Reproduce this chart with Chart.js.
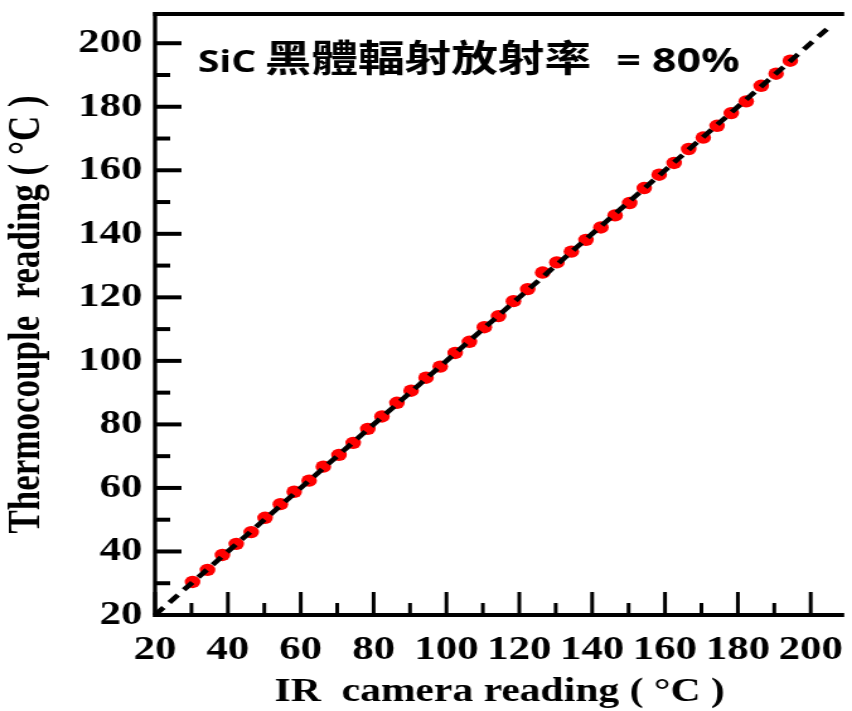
<!DOCTYPE html>
<html>
<head>
<meta charset="utf-8">
<script src="https://cdn.jsdelivr.net/npm/chart.js@4"></script>
<style>
  html, body { margin: 0; padding: 0; background: #fff; overflow: hidden; }
  #plot { display: block; transform: scaleX(1.2604); transform-origin: 0 0; }
</style>
</head>
<body>
<canvas id="plot" width="676" height="711"></canvas>
<script>
// IR camera reading vs thermocouple reading (degrees C)
const irReading = [30.3, 34.4, 38.5, 42.3, 46.4, 50.2, 54.4, 58.2, 62.3, 66.2, 70.5, 74.4, 78.4, 82.3,
    86.4, 90.3, 94.4, 98.3, 102.4, 106.3, 110.4, 114.3, 118.4, 122.3, 126.4, 130.3, 134.3, 138.3,
    142.4, 146.3, 150.3, 154.3, 158.4, 162.5, 166.5, 170.5, 174.3, 178.2, 182.3, 186.4, 190.5, 194.4];
const tcReading = [30.4, 34.2, 38.9, 42.4, 46.1, 50.6, 54.9, 58.8, 62.3, 66.7, 70.4, 74.2, 78.6, 82.5,
    86.8, 90.6, 94.7, 98.2, 102.5, 106.0, 110.6, 114.1, 118.8, 122.6, 127.8, 131.0, 134.4, 138.1,
    142.0, 145.8, 149.7, 154.4, 158.6, 162.3, 166.7, 170.3, 174.0, 178.0, 181.7, 186.6, 190.4, 194.5];
const fitX = [20, 206];
const fitY = [20, 206];
const axisMin = 20;
const axisMax = 209.2;
const tickStep = 20;
const noteParts = ['SiC', '黑體輻射放射率', '= 80%'];
const xTitle = 'IR  camera reading ( °C )';
const yTitle = 'Thermocouple  reading ( °C )';

const serif = '"Liberation Serif", "Times New Roman", serif';

// frame + inward ticks + the emissivity note
const framePlugin = {
    id: 'frame',
    afterDraw(chart) {
        const { ctx, chartArea: a, scales: { x, y } } = chart;
        const seg = (x1, y1, x2, y2) => { ctx.beginPath(); ctx.moveTo(x1, y1); ctx.lineTo(x2, y2); ctx.stroke(); };
        ctx.save();
        ctx.strokeStyle = '#000';

        ctx.lineWidth = 4;
        y.ticks.forEach(t => {
            const py = y.getPixelForValue(t.value);
            seg(a.left, py, a.left + 21, py);
            if (t.value + tickStep / 2 < y.max) {
                const pm = y.getPixelForValue(t.value + tickStep / 2);
                seg(a.left, pm, a.left + 12, pm);
            }
        });
        ctx.lineWidth = 3;
        x.ticks.forEach(t => {
            const px = x.getPixelForValue(t.value);
            seg(px, a.bottom, px, a.bottom - 23);
            if (t.value + tickStep / 2 < x.max) {
                const pm = x.getPixelForValue(t.value + tickStep / 2);
                seg(pm, a.bottom, pm, a.bottom - 12);
            }
        });

        ctx.lineWidth = 4;
        seg(a.left - 1.5, a.top, a.right, a.top);
        seg(a.left - 1.5, a.bottom, a.right, a.bottom);
        ctx.lineWidth = 3.3;
        seg(a.left, a.top - 2, a.left, a.bottom + 2);

        // note: latin bits and CJK in separate fonts
        ctx.fillStyle = '#000';
        ctx.textBaseline = 'alphabetic';
        ctx.font = 'bold 31px "Open Sans", sans-serif';
        ctx.fillText(noteParts[0], 157, 72);
        ctx.font = 'bold 37px "Noto Sans CJK TC", sans-serif';
        ctx.fillText(noteParts[1], 210, 72);
        ctx.font = 'bold 34px "Open Sans", sans-serif';
        ctx.fillText(noteParts[2], 489, 72);
        ctx.restore();
    }
};

new Chart(document.getElementById('plot'), {
    type: 'scatter',
    data: {
        datasets: [{
            type: 'line',
            data: fitX.map((v, i) => ({ x: v, y: fitY[i] })),
            borderColor: '#000',
            borderWidth: 4.5,
            borderDash: [10, 7],
            pointRadius: 0,
            fill: false
        }, {
            data: irReading.map((v, i) => ({ x: v, y: tcReading[i] })),
            backgroundColor: '#f00',
            borderWidth: 0,
            pointRadius: 6.2
        }]
    },
    options: {
        responsive: false,
        animation: false,
        layout: { padding: { top: 14, left: 0, right: 0, bottom: 0 } },
        plugins: { legend: { display: false }, tooltip: { enabled: false } },
        scales: {
            x: {
                type: 'linear',
                min: axisMin,
                max: axisMax,
                grid: { display: false, drawTicks: false },
                border: { display: false },
                ticks: {
                    stepSize: tickStep,
                    includeBounds: false,
                    autoSkip: false,
                    maxRotation: 0,
                    padding: 15,
                    color: '#000',
                    font: { family: serif, size: 34, weight: 'bold', lineHeight: 1.2 }
                },
                title: {
                    display: true,
                    text: xTitle,
                    color: '#000',
                    padding: { top: 0, bottom: 0 },
                    font: { family: serif, size: 33, weight: 'bold', lineHeight: 1.1 }
                },
                afterFit(s) { s.height = 96; s.paddingLeft = 0; s.paddingRight = 0; }
            },
            y: {
                type: 'linear',
                min: axisMin,
                max: axisMax,
                grid: { display: false, drawTicks: false },
                border: { display: false },
                ticks: {
                    stepSize: tickStep,
                    includeBounds: false,
                    padding: 10,
                    color: '#000',
                    font: { family: serif, size: 34, weight: 'bold', lineHeight: 0.8 }
                },
                title: {
                    display: true,
                    text: yTitle,
                    color: '#000',
                    padding: { top: 1, bottom: 0 },
                    font: { family: serif, size: 35, weight: 'bold', lineHeight: 1.2 }
                },
                afterFit(s) { s.width = 123; s.paddingTop = 0; s.paddingBottom = 0; }
            }
        }
    },
    plugins: [framePlugin]
});
</script>
</body>
</html>
